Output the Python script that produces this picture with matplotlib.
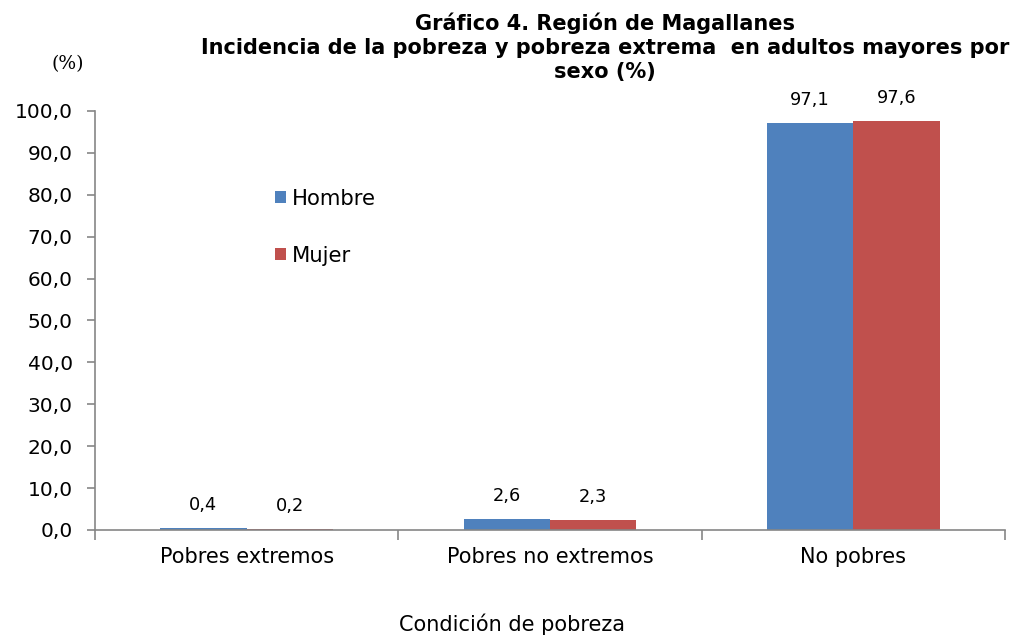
import numpy as np
import matplotlib.pyplot as plt

# datos del grafico
categorias = ['Pobres extremos', 'Pobres no extremos', 'No pobres']
hombre = [0.4, 2.6, 97.1]
mujer = [0.2, 2.3, 97.6]
yticks = [0, 10, 20, 30, 40, 50, 60, 70, 80, 90, 100]
titulo = ['Gráfico 4. Región de Magallanes',
          'Incidencia de la pobreza y pobreza extrema  en adultos mayores por',
          'sexo (%)']

azul = '#4F81BD'
rojo = '#C0504D'
gris = '#868686'


def fmt(v):
    return f'{v:.1f}'.replace('.', ',')


def main():
    plt.rcParams['font.family'] = ['DejaVu Sans']
    fig = plt.figure(figsize=(10.19, 6.36), dpi=100)
    ax = fig.add_axes([0.0932, 0.1667, 0.8931, 0.6588])

    x = np.arange(len(categorias))
    w = 0.285
    b1 = ax.bar(x - w / 2, hombre, w, color=azul, label='Hombre')
    b2 = ax.bar(x + w / 2, mujer, w, color=rojo, label='Mujer')

    for bars, vals in ((b1, hombre), (b2, mujer)):
        for r, v in zip(bars, vals):
            ax.text(r.get_x() + r.get_width() / 2, v + 3.4, fmt(v),
                    ha='center', va='bottom', fontsize=12.8)

    ax.set_xlim(-0.5, 2.5)
    ax.set_ylim(0, 100)
    ax.set_yticks(yticks)
    ax.set_yticklabels([fmt(v) for v in yticks], fontsize=14.5)

    # ticks de separacion entre categorias
    ax.set_xticks([-0.5, 0.5, 1.5, 2.5])
    ax.set_xticklabels([])
    ax.set_xticks(x, minor=True)
    ax.set_xticklabels(categorias, minor=True, fontsize=15)
    ax.tick_params(axis='x', which='minor', length=0, pad=12)
    ax.tick_params(axis='x', which='major', length=7, color=gris, width=1.2)
    ax.tick_params(axis='y', length=6, color=gris, width=1.2, pad=10)

    for s in ('top', 'right'):
        ax.spines[s].set_visible(False)
    for s in ('left', 'bottom'):
        ax.spines[s].set_color(gris)
        ax.spines[s].set_linewidth(1.2)

    ax.set_xlabel('Condición de pobreza', fontsize=15, labelpad=34)
    ax.xaxis.set_label_coords(0.458, -0.2)

    ax.legend(loc='upper left', bbox_to_anchor=(0.189, 0.835), frameon=False,
              fontsize=15.2, handlelength=0.48, handleheight=0.48,
              handletextpad=0.28, labelspacing=1.75, borderaxespad=0)

    # titulo, una linea por texto
    for linea, yb in zip(titulo, (30, 54, 78)):
        fig.text(605 / 1019, 1 - yb / 636, linea, ha='center', va='baseline',
                 fontsize=15, fontweight='bold')
    fig.text(0.066, 0.90, '(%)', ha='center', va='center', fontsize=13.5,
             family='DejaVu Serif')

    fig.savefig('out.png', dpi=100)


if __name__ == '__main__':
    main()
